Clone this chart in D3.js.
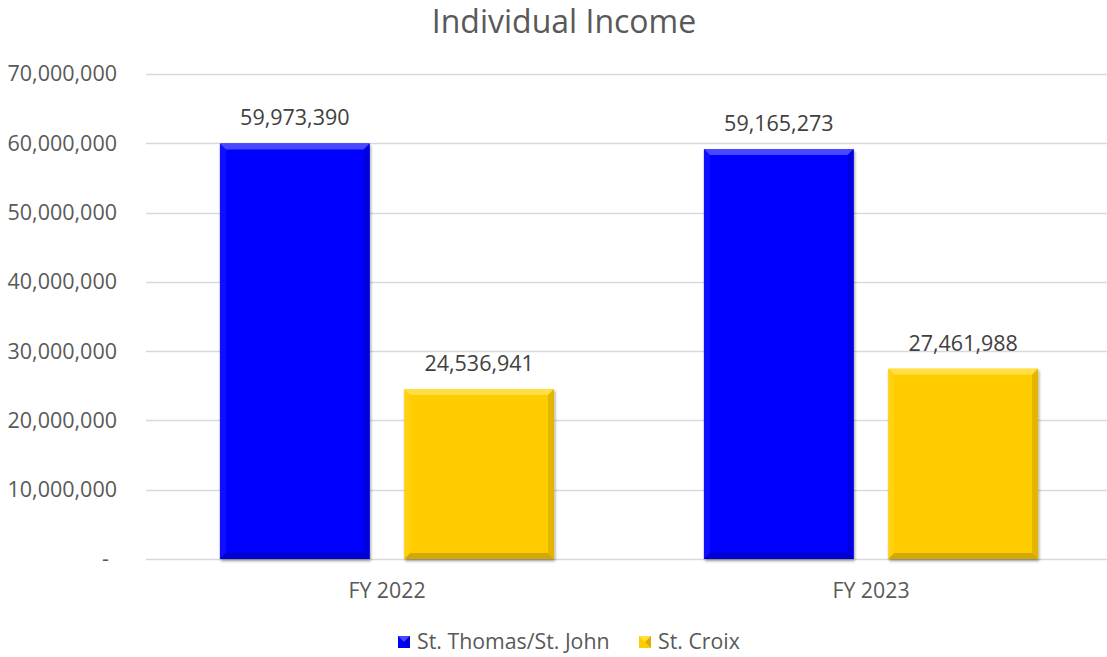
<!DOCTYPE html>
<html>
<head>
<meta charset="utf-8">
<script src="https://cdn.jsdelivr.net/npm/d3@7"></script>
<style>
  html, body { margin: 0; padding: 0; background: #fff; }
  svg { display: block; font-family: "Open Sans", "Noto Sans", sans-serif; }
</style>
</head>
<body>
<svg id="chart" width="1107" height="657"></svg>
<script>
// Fiscal years along the x axis
const categories = ["FY 2022", "FY 2023"];
// Series (districts)
const seriesNames = ["St. Thomas/St. John", "St. Croix"];
const stThomasStJohn = [59973390, 59165273];
const stCroix = [24536941, 27461988];
// Value axis ticks
const yTicks = [0, 10000000, 20000000, 30000000, 40000000, 50000000, 60000000, 70000000];

const seriesValues = [stThomasStJohn, stCroix];
const palette = [
  { base: "#0000FF", light: "#4848ff", lighter: "#2a2aff", dark: "#0000b8", darker: "#0000a0" },
  { base: "#FFCC00", light: "#ffe040", lighter: "#ffd92e", dark: "#c29a00", darker: "#a88600" }
];

const FONT = "'Open Sans', 'Noto Sans', sans-serif";
const svg = d3.select("#chart");
const W = 1107, H = 657;
const plot = { left: 145, right: 1113, top: 74, bottom: 559 };

const y = d3.scaleLinear().domain([0, 70000000]).range([plot.bottom, plot.top]);
const x0 = d3.scaleBand().domain(categories).range([plot.left, plot.right]).paddingInner(0).paddingOuter(0);
const groupW = x0.bandwidth();
// two bars per group, gap width 100%, overlap -23%
const barW = groupW / (2 + 0.23 + 1);
const x1 = d3.scaleBand().domain(seriesNames)
  .range([barW * 0.5, groupW - barW * 0.5])
  .paddingInner(0.23 / 1.23).paddingOuter(0);

const fmt = d3.format(",");

// defs: soft drop shadow
const defs = svg.append("defs");
const shadow = defs.append("filter").attr("id", "shadow")
  .attr("x", "-10%").attr("y", "-10%").attr("width", "120%").attr("height", "120%");
shadow.append("feGaussianBlur").attr("in", "SourceAlpha").attr("stdDeviation", 1.6).attr("result", "b");
shadow.append("feOffset").attr("in", "b").attr("dx", 0.5).attr("dy", 1.5).attr("result", "o");
shadow.append("feComponentTransfer").attr("in", "o").attr("result", "s")
  .append("feFuncA").attr("type", "linear").attr("slope", 0.4);
const merge = shadow.append("feMerge");
merge.append("feMergeNode").attr("in", "s");
merge.append("feMergeNode").attr("in", "SourceGraphic");

// Title
svg.append("text")
  .attr("x", 564).attr("y", 33)
  .attr("text-anchor", "middle")
  .attr("fill", "#595959")
  .attr("font-family", FONT)
  .attr("font-size", 32)
  .style("font-size", "32px")
  .text("Individual Income");

// Gridlines
svg.append("g").selectAll("line")
  .data(yTicks).join("line")
  .attr("x1", plot.left + 1).attr("x2", W)
  .attr("y1", d => Math.round(y(d)) + 0.5).attr("y2", d => Math.round(y(d)) + 0.5)
  .attr("stroke", "#d9d9d9").attr("stroke-width", 1.3);

// Y axis labels
const yAxis = d3.axisLeft(y).tickValues(yTicks).tickSize(0).tickPadding(0)
  .tickFormat(d => d === 0 ? "-" : fmt(d));
const gy = svg.append("g").attr("transform", `translate(${plot.left - 28},0)`).call(yAxis)
  .attr("font-family", FONT).attr("font-size", 21.5);
gy.select(".domain").remove();
gy.selectAll("text")
  .attr("fill", "#595959")
  .attr("font-family", FONT)
  .attr("font-size", 21.5)
  .style("font-family", FONT)
  .style("font-size", "21.5px");
gy.selectAll(".tick").filter(d => d === 0).select("text").attr("dx", -8);

// X axis labels
const xAxis = d3.axisBottom(x0).tickSize(0).tickPadding(0);
const gx = svg.append("g").attr("transform", `translate(0,${plot.bottom + 24})`).call(xAxis)
  .attr("font-family", FONT).attr("font-size", 21.3);
gx.select(".domain").remove();
gx.selectAll("text")
  .attr("fill", "#595959")
  .attr("font-family", FONT)
  .attr("font-size", 21.3)
  .style("font-family", FONT)
  .style("font-size", "21.3px");

// Bars with bevel edges
const bevel = 6;
const bars = svg.append("g");
categories.forEach((cat, ci) => {
  seriesNames.forEach((s, si) => {
    const v = seriesValues[si][ci];
    const bx = x0(cat) + x1(s);
    const by = y(v);
    const bw = x1.bandwidth();
    const bh = y(0) - by;
    const c = palette[si];
    const g = bars.append("g");
    g.append("rect").attr("x", bx).attr("y", by).attr("width", bw).attr("height", bh)
      .attr("fill", c.base).attr("filter", "url(#shadow)");
    const b = bevel;
    // top edge
    g.append("polygon").attr("points", [[bx, by], [bx + bw, by], [bx + bw - b, by + b], [bx + b, by + b]].join(" "))
      .attr("fill", c.light);
    // left edge
    g.append("polygon").attr("points", [[bx, by], [bx + b, by + b], [bx + b, by + bh - b], [bx, by + bh]].join(" "))
      .attr("fill", c.lighter).attr("opacity", 0.35);
    // right edge
    g.append("polygon").attr("points", [[bx + bw, by], [bx + bw, by + bh], [bx + bw - b, by + bh - b], [bx + bw - b, by + b]].join(" "))
      .attr("fill", c.dark).attr("opacity", 0.45);
    // bottom edge
    g.append("polygon").attr("points", [[bx, by + bh], [bx + bw, by + bh], [bx + bw - b, by + bh - b], [bx + b, by + bh - b]].join(" "))
      .attr("fill", c.darker).attr("opacity", 0.5);

    // value label
    svg.append("text")
      .attr("x", bx + bw / 2).attr("y", by - 18)
      .attr("text-anchor", "middle")
      .attr("fill", "#404040")
      .attr("font-family", FONT)
      .attr("font-size", 21.5)
      .style("font-size", "21.5px")
      .text(fmt(v));
  });
});

// Legend
const legend = svg.append("g");
const legendItems = [
  { name: seriesNames[0], x: 398 },
  { name: seriesNames[1], x: 639 }
];
legendItems.forEach((it, i) => {
  const c = palette[i];
  const sx = it.x, sy = 636, ss = 12;
  legend.append("rect").attr("x", sx).attr("y", sy).attr("width", ss).attr("height", ss).attr("fill", c.base);
  legend.append("polygon").attr("points", [[sx, sy], [sx + ss, sy], [sx + ss / 2, sy + ss / 2]].join(" ")).attr("fill", c.light);
  legend.append("polygon").attr("points", [[sx + ss, sy], [sx + ss, sy + ss], [sx + ss / 2, sy + ss / 2]].join(" ")).attr("fill", c.dark).attr("opacity", 0.6);
  legend.append("text").attr("x", sx + 19).attr("y", sy + 13)
    .attr("fill", "#595959")
    .attr("font-family", FONT)
    .attr("font-size", 21.3)
    .style("font-size", "21.3px").text(it.name);
});
</script>
</body>
</html>
